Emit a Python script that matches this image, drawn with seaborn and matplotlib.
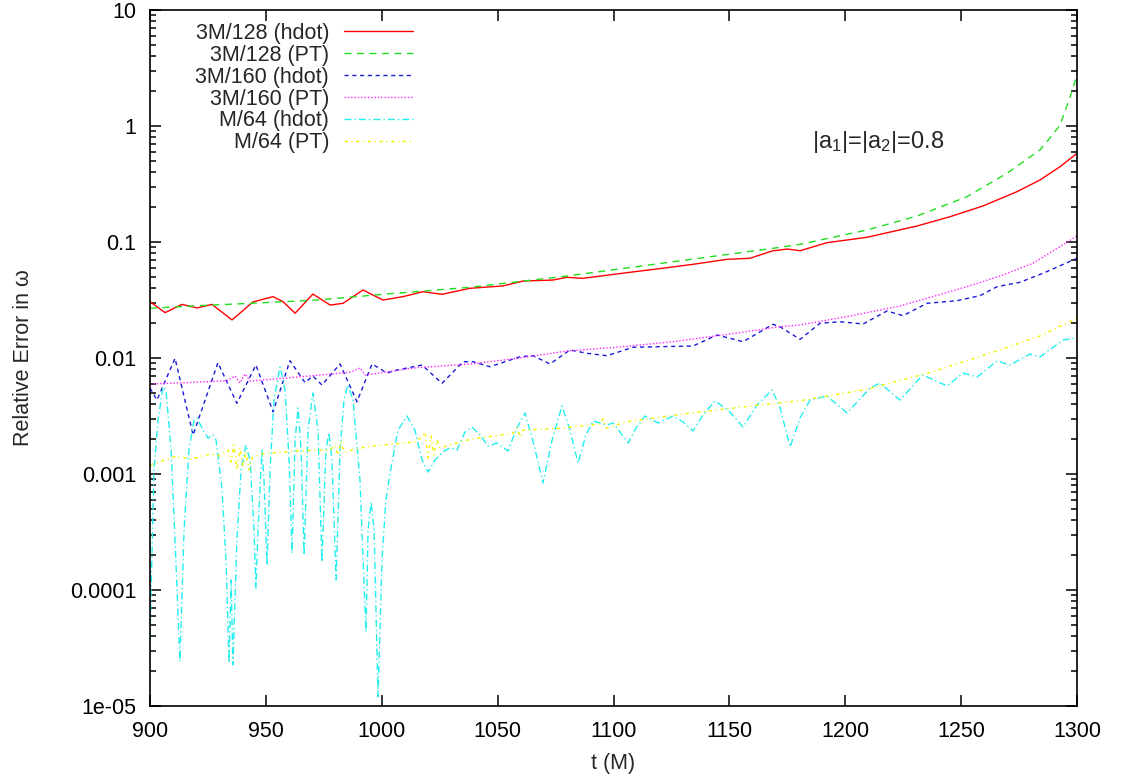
import numpy as np
import pandas as pd
import matplotlib
matplotlib.use("Agg")
import matplotlib.pyplot as plt
import seaborn as sns

# ---------------- data ----------------
t_red = [900, 906.5, 913.8, 920.3, 926.7, 935.4, 944.4, 953.1, 957.4, 962.6, 970.3, 977.7,
         983.3, 991.9, 1000.5, 1009.2, 1017.8, 1026, 1038.1, 1052.3, 1061, 1073.9, 1079.9,
         1086.8, 1105.8, 1123.1, 1134.3, 1149, 1158.9, 1168.8, 1171.8, 1174.9, 1180.5,
         1192.1, 1209.4, 1231, 1245.2, 1259.4, 1274.1, 1284, 1292.7, 1300]
v_red = [0.0306, 0.0246, 0.0290, 0.0270, 0.0290, 0.0213, 0.0304, 0.0338, 0.0306, 0.0243,
         0.0356, 0.0286, 0.0296, 0.0386, 0.0316, 0.0338, 0.0373, 0.0354, 0.0399, 0.0418,
         0.0461, 0.0470, 0.0496, 0.0486, 0.0544, 0.0600, 0.0642, 0.0709, 0.0724, 0.0841,
         0.0853, 0.0870, 0.0841, 0.0986, 0.1098, 0.1374, 0.1652, 0.2044, 0.2715, 0.3423,
         0.4458, 0.5817]

t_green = [900, 921.6, 943.2, 972.1, 1000.5, 1038.1, 1079.9, 1125.7, 1168.8, 1180.5, 1209.4,
           1231, 1252.5, 1269.8, 1284, 1288.3, 1292.7, 1297, 1300]
v_green = [0.0268, 0.0283, 0.0296, 0.0316, 0.0354, 0.0407, 0.0509, 0.0676, 0.0882, 0.0955,
           0.1269, 0.1675, 0.2458, 0.3911, 0.621, 0.788, 1.02, 1.78, 2.75]

t_blue = [900, 903, 910.8, 918.6, 929.3, 937.5, 945.7, 953.1, 960.4, 966.9, 970.3, 974.2, 982,
          989.3, 995.8, 1002.3, 1006.6, 1017.4, 1026, 1035.1, 1039.4, 1046.7, 1059.7, 1065.3,
          1072.6, 1081.2, 1088.6, 1097.2, 1108.4, 1120.1, 1134.3, 1144.7, 1155.9, 1168.8,
          1171.8, 1180.5, 1189.1, 1197.7, 1207.7, 1218, 1224.9, 1235.3, 1248.2, 1258.1,
          1265.5, 1275.4, 1285.3, 1300]
v_blue = [0.00551, 0.00434, 0.00994, 0.00217, 0.00911, 0.00407, 0.00870, 0.00344, 0.00948,
          0.00613, 0.00700, 0.00585, 0.00888, 0.00420, 0.00888, 0.00742, 0.00788, 0.00870,
          0.00605, 0.00929, 0.00929, 0.00841, 0.01026, 0.01046, 0.00888, 0.01173, 0.01098,
          0.01046, 0.01237, 0.01252, 0.01269, 0.01578, 0.01382, 0.01952, 0.01861, 0.01449,
          0.01991, 0.02055, 0.01964, 0.02542, 0.02316, 0.02962, 0.03119, 0.03444, 0.04118,
          0.04493, 0.05373, 0.07237]

t_mag = [900, 917.3, 933.2, 936.7, 938.8, 941, 943.2, 957.4, 986.3, 990.6, 992.8, 1015.2,
         1038.1, 1059.7, 1079.9, 1102.8, 1125.7, 1150.3, 1171.8, 1180.5, 1202, 1223.6,
         1252.5, 1266.8, 1281, 1300]
v_mag = [0.00597, 0.00615, 0.00637, 0.00700, 0.00609, 0.00728, 0.00633, 0.00668, 0.00753,
         0.00820, 0.00714, 0.00825, 0.00888, 0.0100, 0.01149, 0.01244, 0.01382, 0.01610,
         0.01861, 0.01925, 0.02301, 0.02807, 0.04118, 0.0509, 0.06552, 0.1126]

t_cyan = [900.0, 901.7, 903.5, 905.6, 906.9, 909.1, 910.8, 912.9, 914.7, 916.8, 919.0, 920.3,
          922.9, 925.0, 927.2, 928.5, 931.1, 932.8, 934.1, 935.0, 935.8, 937.5, 939.3, 941.4,
          943.2, 944.9, 945.7, 946.6, 948.3, 949.2, 950.5, 951.8, 953.5, 956.1, 958.3, 960.0,
          961.3, 962.6, 963.9, 965.2, 966.5, 968.2, 970.3, 972.5, 974.2, 975.9, 977.2, 978.5,
          980.3, 982.0, 983.7, 985.4, 987.6, 990.6, 993.2, 994.1, 995.4, 996.7, 998.4, 1000.1,
          1001.8, 1003.6, 1007.0, 1010.9, 1014.3, 1017.4, 1020.0, 1023.0, 1026.4, 1029.4,
          1032.5, 1035.9, 1038.9, 1042.4, 1045.8, 1049.7, 1054.5, 1057.9, 1061.8, 1065.7,
          1069.6, 1073.5, 1077.8, 1081.2, 1084.7, 1088.1, 1091.2, 1094.2, 1097.2, 1099.8,
          1102.8, 1106.3, 1109.7, 1113.6, 1119.2, 1125.7, 1130.0, 1134.3, 1138.6, 1143.8,
          1149.4, 1155.9, 1161.9, 1168.4, 1171.8, 1176.2, 1180.5, 1184.8, 1192.1, 1200.8,
          1210.7, 1215.0, 1223.6, 1233.5, 1243.9, 1250.8, 1256.9, 1265.5, 1271.1, 1279.7,
          1284.0, 1294.0, 1300.0]
v_cyan = [3.71e-5, 1.083e-3, 2.92e-3, 5.62e-3, 5.30e-3, 1.61e-3, 2.70e-4, 2.41e-5, 3.29e-4,
          1.61e-3, 2.92e-3, 3.04e-3, 2.39e-3, 2.04e-3, 2.17e-3, 1.96e-3, 7.28e-4, 1.81e-4,
          2.35e-5, 1.22e-4, 2.26e-5, 2.70e-4, 1.083e-3, 1.78e-3, 1.32e-3, 3.29e-4, 1.04e-4,
          3.29e-4, 1.61e-3, 8.88e-4, 1.64e-4, 1.083e-3, 4.34e-3, 8.37e-3, 5.30e-3, 1.32e-3,
          2.08e-4, 1.96e-3, 3.71e-3, 1.61e-3, 2.00e-4, 2.39e-3, 4.99e-3, 2.39e-3, 1.74e-4,
          1.61e-3, 2.26e-3, 1.32e-3, 1.22e-4, 1.61e-3, 4.34e-3, 5.85e-3, 4.34e-3, 8.88e-4,
          4.34e-5, 3.29e-4, 5.74e-4, 3.29e-4, 1.20e-5, 1.81e-4, 5.97e-4, 1.02e-3, 2.39e-3,
          3.16e-3, 2.39e-3, 1.32e-3, 1.04e-3, 1.32e-3, 1.55e-3, 1.68e-3, 1.61e-3, 2.30e-3,
          2.54e-3, 2.17e-3, 1.74e-3, 1.85e-3, 1.58e-3, 2.39e-3, 3.36e-3, 1.78e-3, 8.37e-4,
          1.96e-3, 3.86e-3, 2.39e-3, 1.24e-3, 2.17e-3, 2.86e-3, 2.75e-3, 2.65e-3, 2.75e-3,
          2.30e-3, 1.85e-3, 2.49e-3, 3.16e-3, 2.75e-3, 3.16e-3, 2.81e-3, 2.35e-3, 3.23e-3,
          4.26e-3, 3.56e-3, 2.54e-3, 3.93e-3, 5.30e-3, 3.78e-3, 1.71e-3, 3.04e-3, 4.34e-3,
          4.70e-3, 3.36e-3, 5.51e-3, 6.09e-3, 4.34e-3, 7.14e-3, 5.74e-3, 7.42e-3, 6.86e-3,
          9.42e-3, 8.70e-3, 1.083e-2, 1.02e-2, 1.43e-2, 1.49e-2]

t_yel = [900, 911.7, 917.3, 925.9, 930.2, 933.7, 935.0, 936.2, 937.5, 938.8, 940.1, 941.4,
         942.7, 944.0, 947.5, 964.7, 977.7, 979.8, 981.1, 982.4, 983.7, 993.6, 1015.2,
         1018.7, 1020.0, 1021.3, 1022.5, 1023.8, 1025.1, 1038.1, 1056.6, 1058.4, 1059.7,
         1061.0, 1076.9, 1094.2, 1095.5, 1096.8, 1105.8, 1134.3, 1163.2, 1180.5, 1209.4,
         1237.9, 1266.8, 1284.0, 1300]
v_yel = [1.196e-3, 1.429e-3, 1.338e-3, 1.487e-3, 1.429e-3, 1.61e-3, 1.269e-3, 1.78e-3,
         1.083e-3, 1.68e-3, 1.172e-3, 1.55e-3, 1.083e-3, 1.373e-3, 1.487e-3, 1.588e-3,
         1.61e-3, 1.78e-3, 1.458e-3, 1.887e-3, 1.55e-3, 1.719e-3, 1.899e-3, 2.30e-3,
         1.373e-3, 2.126e-3, 1.458e-3, 1.96e-3, 1.68e-3, 1.991e-3, 2.244e-3, 2.49e-3,
         2.085e-3, 2.39e-3, 2.477e-3, 2.698e-3, 2.979e-3, 2.49e-3, 2.824e-3, 3.376e-3,
         3.933e-3, 4.283e-3, 5.373e-3, 7.617e-3, 1.173e-2, 1.548e-2, 2.199e-2]

labels = ["3M/128 (hdot)", "3M/128 (PT)", "3M/160 (hdot)", "3M/160 (PT)",
          "M/64 (hdot)", "M/64 (PT)"]
x_ticks = [900, 950, 1000, 1050, 1100, 1150, 1200, 1250, 1300]
y_ticks = [1e-5, 1e-4, 1e-3, 1e-2, 1e-1, 1, 10]
y_tick_labels = ["1e-05", "0.0001", "0.001", "0.01", "0.1", "1", "10"]
annotation = r"|a$_1$|=|a$_2$|=0.8"

# ---------------- styling ----------------
sns.set_style("ticks")
plt.rcParams['font.family'] = ['Liberation Sans', 'DejaVu Sans']
plt.rcParams['mathtext.fontset'] = 'custom'
plt.rcParams['mathtext.rm'] = 'Liberation Sans'
plt.rcParams['mathtext.it'] = 'Liberation Sans'

series = [
    (t_red, v_red, "#ff0000", "-"),
    (t_green, v_green, "#22dd22", (0, (5.0, 4.0))),
    (t_blue, v_blue, "#1a1ad8", (0, (3.0, 2.6))),
    (t_mag, v_mag, "#ff22ff", (0, (1.0, 1.4))),
    (t_cyan, v_cyan, "#22eeee", (0, (5.0, 2.2, 1.0, 2.2))),
    (t_yel, v_yel, "#f2f200", (0, (2.4, 2.6, 0.8, 2.6))),
]

fig = plt.figure(figsize=(11.21, 7.80), dpi=100)
ax = fig.add_axes([150 / 1121, 1 - 706 / 780, (1077 - 150) / 1121, (706 - 10) / 780])

for (t, v, c, ls), lab in zip(series, labels):
    df = pd.DataFrame({"t": t, "v": v})
    sns.lineplot(data=df, x="t", y="v", ax=ax, color=c, linestyle=ls, linewidth=1.0,
                 label=lab, sort=False, estimator=None, errorbar=None)

ax.set_yscale("log")
ax.set_xlim(900, 1300)
ax.set_ylim(1e-5, 10)
ax.set_xticks(x_ticks)
ax.set_xticklabels([str(v) for v in x_ticks])
ax.set_yticks(y_ticks)
ax.set_yticklabels(y_tick_labels)
ax.yaxis.set_minor_locator(matplotlib.ticker.LogLocator(base=10, subs=np.arange(2, 10), numticks=20))
ax.yaxis.set_minor_formatter(matplotlib.ticker.NullFormatter())
ax.xaxis.set_minor_locator(matplotlib.ticker.NullLocator())
ax.tick_params(which="both", direction="in", top=True, right=True, colors="black",
               labelsize=15.5, width=1.1)
ax.tick_params(which="major", length=8)
ax.tick_params(axis="x", which="major", pad=11)
ax.tick_params(axis="y", which="major", pad=10)
ax.tick_params(which="minor", length=4.5)
for s in ax.spines.values():
    s.set_linewidth(1.2)
    s.set_color("black")

ax.set_xlabel("t (M)", fontsize=15.5, labelpad=8)
ax.set_ylabel("Relative Error in ω", fontsize=15.5, labelpad=26)

ax.text((812 - 150) / 927, 1 - (142 - 10) / 696, annotation, transform=ax.transAxes,
        fontsize=17, ha="left", va="center")

leg = ax.legend(loc="upper right", bbox_to_anchor=((413 - 150) / 927, 1 - (23 - 10) / 696),
                frameon=False, markerfirst=False, fontsize=15.5, handlelength=3.2,
                handletextpad=0.7, labelspacing=0.04, borderpad=0, borderaxespad=0)

fig.savefig("out.png", dpi=100, facecolor="white")
